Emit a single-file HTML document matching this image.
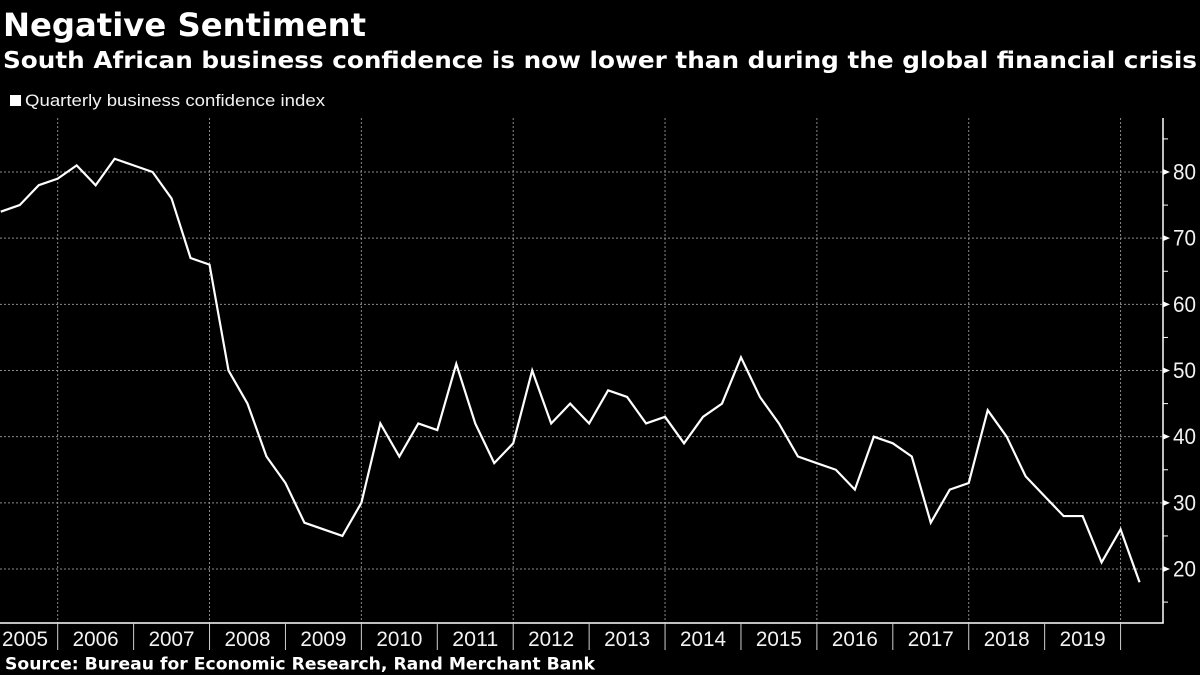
<!DOCTYPE html>
<html>
<head>
<meta charset="utf-8">
<style>
  html, body { margin: 0; padding: 0; background: #000; }
  body { width: 1200px; height: 675px; overflow: hidden; }
  svg { display: block; }
  .t { font-family: "DejaVu Sans", "Liberation Sans", sans-serif; font-weight: bold; fill: #fff; }
  .l { font-family: "Liberation Sans", sans-serif; fill: #f2f2f2; }
</style>
</head>
<body>
<svg width="1200" height="675" viewBox="0 0 1200 675" xmlns="http://www.w3.org/2000/svg">
  <rect x="0" y="0" width="1200" height="675" fill="#000"/>

  <!-- Titles -->
  <text class="t" x="3" y="36" font-size="32" textLength="363" lengthAdjust="spacingAndGlyphs">Negative Sentiment</text>
  <text class="t" x="3" y="68" font-size="23" textLength="1194" lengthAdjust="spacingAndGlyphs">South African business confidence is now lower than during the global financial crisis</text>

  <!-- Legend -->
  <rect x="10" y="95" width="11" height="11" fill="#fff"/>
  <text class="l" x="25" y="106" font-size="16.5" textLength="300" lengthAdjust="spacingAndGlyphs">Quarterly business confidence index</text>

  <!-- Horizontal gridlines -->
  <g stroke="#8a8a8a" stroke-width="1" stroke-dasharray="2,2">
    <line x1="0" y1="569" x2="1163" y2="569"/>
    <line x1="0" y1="502.85" x2="1163" y2="502.85"/>
    <line x1="0" y1="436.68" x2="1163" y2="436.68"/>
    <line x1="0" y1="370.51" x2="1163" y2="370.51"/>
    <line x1="0" y1="304.34" x2="1163" y2="304.34"/>
    <line x1="0" y1="238.17" x2="1163" y2="238.17"/>
    <line x1="0" y1="172" x2="1163" y2="172"/>
  </g>
  <!-- Vertical gridlines -->
  <g stroke="#8a8a8a" stroke-width="1" stroke-dasharray="2,2">
    <line x1="57.69" y1="118" x2="57.69" y2="623"/>
    <line x1="209.53" y1="118" x2="209.53" y2="623"/>
    <line x1="361.37" y1="118" x2="361.37" y2="623"/>
    <line x1="513.21" y1="118" x2="513.21" y2="623"/>
    <line x1="665.05" y1="118" x2="665.05" y2="623"/>
    <line x1="816.89" y1="118" x2="816.89" y2="623"/>
    <line x1="968.73" y1="118" x2="968.73" y2="623"/>
    <line x1="1120.57" y1="118" x2="1120.57" y2="623"/>
  </g>

  <!-- Axes -->
  <line x1="1163" y1="118" x2="1163" y2="623.5" stroke="#fff" stroke-width="1.5"/>
  <line x1="0" y1="623" x2="1163.75" y2="623" stroke="#fff" stroke-width="1.5"/>

  <!-- Y major ticks (wedges) -->
  <g fill="#fff">
    <polygon points="1163,566 1170,569 1163,572"/>
    <polygon points="1163,499.85 1170,502.85 1163,505.85"/>
    <polygon points="1163,433.68 1170,436.68 1163,439.68"/>
    <polygon points="1163,367.51 1170,370.51 1163,373.51"/>
    <polygon points="1163,301.34 1170,304.34 1163,307.34"/>
    <polygon points="1163,235.17 1170,238.17 1163,241.17"/>
    <polygon points="1163,169 1170,172 1163,175"/>
  </g>
  <!-- Y minor ticks -->
  <g stroke="#fff" stroke-width="1">
    <line x1="1163" y1="602.1" x2="1168" y2="602.1"/>
    <line x1="1163" y1="535.94" x2="1168" y2="535.94"/>
    <line x1="1163" y1="469.77" x2="1168" y2="469.77"/>
    <line x1="1163" y1="403.6" x2="1168" y2="403.6"/>
    <line x1="1163" y1="337.43" x2="1168" y2="337.43"/>
    <line x1="1163" y1="271.26" x2="1168" y2="271.26"/>
    <line x1="1163" y1="205.09" x2="1168" y2="205.09"/>
    <line x1="1163" y1="138.9" x2="1168" y2="138.9"/>
  </g>
  <!-- Y labels -->
  <g class="l" font-size="22">
    <text x="1173" y="576.5" textLength="23" lengthAdjust="spacingAndGlyphs">20</text>
    <text x="1173" y="510.35" textLength="23" lengthAdjust="spacingAndGlyphs">30</text>
    <text x="1173" y="444.18" textLength="23" lengthAdjust="spacingAndGlyphs">40</text>
    <text x="1173" y="378.01" textLength="23" lengthAdjust="spacingAndGlyphs">50</text>
    <text x="1173" y="311.84" textLength="23" lengthAdjust="spacingAndGlyphs">60</text>
    <text x="1173" y="245.67" textLength="23" lengthAdjust="spacingAndGlyphs">70</text>
    <text x="1173" y="179.5" textLength="23" lengthAdjust="spacingAndGlyphs">80</text>
  </g>

  <!-- X ticks -->
  <g stroke="#cfcfcf" stroke-width="1">
    <line x1="57.69" y1="623" x2="57.69" y2="650"/>
    <line x1="133.61" y1="623" x2="133.61" y2="650"/>
    <line x1="209.53" y1="623" x2="209.53" y2="650"/>
    <line x1="285.45" y1="623" x2="285.45" y2="650"/>
    <line x1="361.37" y1="623" x2="361.37" y2="650"/>
    <line x1="437.29" y1="623" x2="437.29" y2="650"/>
    <line x1="513.21" y1="623" x2="513.21" y2="650"/>
    <line x1="589.13" y1="623" x2="589.13" y2="650"/>
    <line x1="665.05" y1="623" x2="665.05" y2="650"/>
    <line x1="740.97" y1="623" x2="740.97" y2="650"/>
    <line x1="816.89" y1="623" x2="816.89" y2="650"/>
    <line x1="892.81" y1="623" x2="892.81" y2="650"/>
    <line x1="968.73" y1="623" x2="968.73" y2="650"/>
    <line x1="1044.65" y1="623" x2="1044.65" y2="650"/>
    <line x1="1120.57" y1="623" x2="1120.57" y2="650"/>
  </g>
  <!-- X labels -->
  <g class="l" font-size="21">
    <text x="2" y="646" textLength="46" lengthAdjust="spacingAndGlyphs">2005</text>
    <text x="72.65" y="646" textLength="46" lengthAdjust="spacingAndGlyphs">2006</text>
    <text x="148.57" y="646" textLength="46" lengthAdjust="spacingAndGlyphs">2007</text>
    <text x="224.49" y="646" textLength="46" lengthAdjust="spacingAndGlyphs">2008</text>
    <text x="300.41" y="646" textLength="46" lengthAdjust="spacingAndGlyphs">2009</text>
    <text x="376.33" y="646" textLength="46" lengthAdjust="spacingAndGlyphs">2010</text>
    <text x="452.25" y="646" textLength="46" lengthAdjust="spacingAndGlyphs">2011</text>
    <text x="528.17" y="646" textLength="46" lengthAdjust="spacingAndGlyphs">2012</text>
    <text x="604.09" y="646" textLength="46" lengthAdjust="spacingAndGlyphs">2013</text>
    <text x="680.01" y="646" textLength="46" lengthAdjust="spacingAndGlyphs">2014</text>
    <text x="755.93" y="646" textLength="46" lengthAdjust="spacingAndGlyphs">2015</text>
    <text x="831.85" y="646" textLength="46" lengthAdjust="spacingAndGlyphs">2016</text>
    <text x="907.77" y="646" textLength="46" lengthAdjust="spacingAndGlyphs">2017</text>
    <text x="983.69" y="646" textLength="46" lengthAdjust="spacingAndGlyphs">2018</text>
    <text x="1059.61" y="646" textLength="46" lengthAdjust="spacingAndGlyphs">2019</text>
  </g>

  <!-- Series -->
  <polyline fill="none" stroke="#fff" stroke-width="2.2" stroke-linejoin="miter" stroke-miterlimit="4"
    points="0.75,211.70 19.73,205.09 38.71,185.23 57.69,178.62
            76.67,165.38 95.65,185.23 114.63,158.77 133.61,165.38
            152.59,172 171.57,198.47 190.55,258.02 209.53,264.64
            228.51,370.51 247.49,403.60 266.47,456.53 285.45,483.00
            304.43,522.70 323.41,529.32 342.39,535.94 361.37,502.85
            380.35,423.45 399.33,456.53 418.31,423.45 437.29,430.06
            456.27,363.89 475.25,423.45 494.23,463.15 513.21,443.30
            532.19,370.51 551.17,423.45 570.15,403.60 589.13,423.45
            608.11,390.36 627.09,396.98 646.07,423.45 665.05,416.83
            684.03,443.30 703.01,416.83 721.99,403.60 740.97,357.28
            759.95,396.98 778.93,423.45 797.91,456.53 816.89,463.15
            835.87,469.77 854.85,489.62 873.83,436.68 892.81,443.30
            911.79,456.53 930.77,522.70 949.75,489.62 968.73,483.00
            987.71,410.21 1006.69,436.68 1025.67,476.38 1044.65,496.23
            1063.63,516.08 1082.61,516.08 1101.59,562.40 1120.57,529.32
            1139.55,582.25"/>

  <!-- Source -->
  <text class="t" x="5" y="669.5" font-size="17" textLength="590" lengthAdjust="spacingAndGlyphs">Source: Bureau for Economic Research, Rand Merchant Bank</text>
</svg>
</body>
</html>
